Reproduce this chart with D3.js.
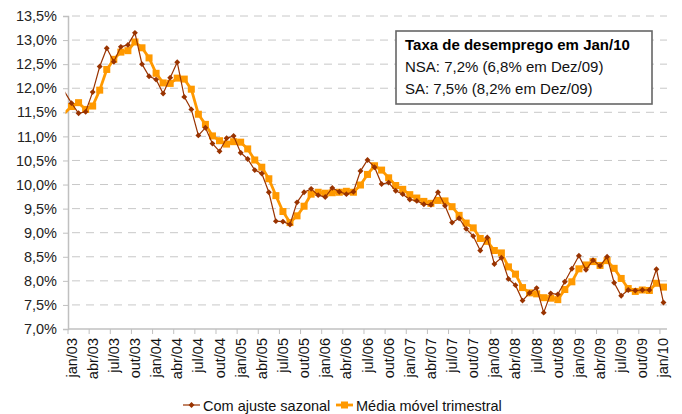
<!DOCTYPE html>
<html>
<head>
<meta charset="utf-8">
<script src="https://cdn.jsdelivr.net/npm/d3@7/dist/d3.min.js"></script>
<style>
  body { margin: 0; background: #fff; }
  svg { display: block; font-family: "Liberation Sans", Arial, sans-serif; }
</style>
</head>
<body>
<div id="chart"></div>
<script>
var width = 682;
var height = 414;

// plot area
var margin = { top: 16, bottom: 85, left: 68, right: 15 };

// data: monthly, jan/03 .. jan/10 (index 0 = jan/03), plus the dez/02 point that gets clipped
var monthNames = ["jan", "fev", "mar", "abr", "mai", "jun", "jul", "ago", "set", "out", "nov", "dez"];
var years = ["03", "04", "05", "06", "07", "08", "09", "10"];

var prevSA = 11.93;   // dez/02
var prevMA = 11.48;

var seasAdj = [
  11.69, 11.48, 11.51, 11.92, 12.45, 12.83, 12.55, 12.86, 12.90, 13.15, 12.50, 12.25,
  12.18, 11.89, 12.22, 12.54, 11.82, 11.56, 11.02, 11.18, 10.85, 10.69, 10.96, 11.01,
  10.66, 10.53, 10.30, 10.23, 9.84, 9.24, 9.23, 9.17, 9.63, 9.84, 9.91, 9.78,
  9.74, 9.93, 9.85, 9.80, 9.85, 10.28, 10.51, 10.36, 10.01, 10.04, 9.87, 9.80,
  9.69, 9.66, 9.59, 9.58, 9.84, 9.56, 9.21, 9.30, 9.08, 8.93, 8.63, 8.90,
  8.35, 8.48, 8.04, 7.91, 7.59, 7.75, 7.85, 7.34, 7.74, 7.72, 7.98, 8.25,
  8.52, 8.23, 8.43, 8.31, 8.50, 7.96, 7.69, 7.81, 7.80, 7.81, 7.81, 8.24,
  7.55
];

var movAvg = [
  11.62, 11.70, 11.56, 11.63, 11.96, 12.39, 12.60, 12.75, 12.78, 12.96, 12.84, 12.63,
  12.31, 12.11, 12.10, 12.21, 12.19, 11.98, 11.46, 11.25, 11.01, 10.91, 10.84, 10.89,
  10.88, 10.74, 10.51, 10.36, 10.12, 9.77, 9.44, 9.21, 9.35, 9.55, 9.80, 9.84,
  9.82, 9.83, 9.84, 9.86, 9.84, 9.99, 10.21, 10.39, 10.30, 10.14, 9.98, 9.90,
  9.79, 9.72, 9.65, 9.61, 9.67, 9.66, 9.54, 9.36, 9.20, 9.10, 8.88, 8.82,
  8.63, 8.58, 8.29, 8.14, 7.86, 7.75, 7.73, 7.65, 7.64, 7.61, 7.82, 7.98,
  8.25, 8.33, 8.40, 8.32, 8.42, 8.26, 8.05, 7.84, 7.78, 7.81, 7.80, 7.95,
  7.87
];

var yTicks = [7.0, 7.5, 8.0, 8.5, 9.0, 9.5, 10.0, 10.5, 11.0, 11.5, 12.0, 12.5, 13.0, 13.5];

var boxTitle = "Taxa de desemprego em Jan/10";
var boxLines = ["NSA: 7,2% (6,8% em Dez/09)", "SA: 7,5% (8,2% em Dez/09)"];
var seriesNames = ["Com ajuste sazonal", "Média móvel trimestral"];

// month labels for every category
var months = [];
years.forEach(function (yr) {
  monthNames.forEach(function (m) { months.push(m + "/" + yr); });
});
months = months.slice(0, seasAdj.length);

var red = "#993300";
var orange = "#ff9900";

var svg = d3.select("#chart").append("svg")
  .attr("width", width)
  .attr("height", height);

var x = d3.scaleLinear()
  .domain([-0.5, months.length - 0.5])
  .range([margin.left, width - margin.right]);

var y = d3.scaleLinear()
  .domain([7, 13.5])
  .range([height - margin.bottom, margin.top]);

var fmt = function (d) { return d3.format(".1f")(d).replace(".", ",") + "%"; };

// gridlines
svg.append("g")
  .selectAll("line")
  .data(yTicks.slice(1))
  .join("line")
  .attr("x1", margin.left + 4)
  .attr("x2", width - margin.right)
  .attr("y1", function (d) { return y(d); })
  .attr("y2", function (d) { return y(d); })
  .attr("stroke", "#c8c8c8")
  .attr("stroke-width", 1)
  .attr("stroke-dasharray", "8,6");

// y axis
var yAxis = svg.append("g")
  .attr("transform", "translate(" + margin.left + ",0)")
  .call(d3.axisLeft(y).tickValues(yTicks).tickFormat(fmt).tickSize(5).tickPadding(6));
yAxis.select(".domain").attr("stroke", "#c0c0c0").attr("stroke-width", 1.5);
yAxis.selectAll(".tick line").attr("stroke", "#c0c0c0");
yAxis.selectAll("text").attr("font-size", "14.5px").attr("fill", "#222");

// x axis: ticks at the left edge of every third month
var tickIdx = d3.range(0, months.length, 3);
var xAxis = svg.append("g")
  .attr("transform", "translate(0," + (height - margin.bottom) + ")");
xAxis.append("line")
  .attr("x1", margin.left).attr("x2", width - margin.right)
  .attr("stroke", "#c0c0c0").attr("stroke-width", 1.5);
xAxis.selectAll(".tk")
  .data(tickIdx)
  .join("line")
  .attr("class", "tk")
  .attr("x1", function (i) { return x(i - 0.5); })
  .attr("x2", function (i) { return x(i - 0.5); })
  .attr("y1", 0).attr("y2", 5)
  .attr("stroke", "#c0c0c0");
xAxis.selectAll("text")
  .data(tickIdx)
  .join("text")
  .attr("transform", function (i) { return "translate(" + (x(i) + 5) + ",9)rotate(-90)"; })
  .attr("text-anchor", "end")
  .attr("font-size", "14.5px")
  .attr("fill", "#111")
  .text(function (i) { return months[i]; });

// clip so the dez/02 segment only peeks in at the axis
svg.append("clipPath").attr("id", "plotclip")
  .append("rect")
  .attr("x", margin.left - 2.5)
  .attr("y", 0)
  .attr("width", width - margin.right - margin.left + 8)
  .attr("height", height - margin.bottom + 5);

var line = d3.line()
  .x(function (d) { return x(d.i); })
  .y(function (d) { return y(d.v); });

var saPts = [{ i: -1, v: prevSA }].concat(seasAdj.map(function (v, i) { return { i: i, v: v }; }));
var maPts = [{ i: -1, v: prevMA }].concat(movAvg.map(function (v, i) { return { i: i, v: v }; }));

var plot = svg.append("g").attr("clip-path", "url(#plotclip)");

// moving average (orange, squares)
plot.append("path")
  .datum(maPts)
  .attr("fill", "none")
  .attr("stroke", orange)
  .attr("stroke-width", 2.8)
  .attr("stroke-linejoin", "round")
  .attr("d", line);
plot.append("g")
  .selectAll("rect")
  .data(maPts.slice(1))
  .join("rect")
  .attr("x", function (d) { return x(d.i) - 3.5; })
  .attr("y", function (d) { return y(d.v) - 3.5; })
  .attr("width", 7)
  .attr("height", 7)
  .attr("fill", orange);

// seasonally adjusted (dark red, diamonds)
var diamond = d3.symbol().type(d3.symbolDiamond2).size(22);
plot.append("path")
  .datum(saPts)
  .attr("fill", "none")
  .attr("stroke", red)
  .attr("stroke-width", 1.2)
  .attr("d", line);
plot.append("g")
  .selectAll("path")
  .data(saPts.slice(1))
  .join("path")
  .attr("transform", function (d) { return "translate(" + x(d.i) + "," + y(d.v) + ")"; })
  .attr("d", diamond)
  .attr("fill", red);

// info box
var box = svg.append("g").attr("transform", "translate(396,31)");
box.append("rect")
  .attr("width", 256)
  .attr("height", 73)
  .attr("fill", "#fff")
  .attr("stroke", "#666")
  .attr("stroke-width", 1.6);
box.append("text")
  .attr("x", 9).attr("y", 19)
  .attr("font-size", "15px")
  .attr("font-weight", "bold")
  .attr("fill", "#000")
  .text(boxTitle);
box.selectAll(".ln")
  .data(boxLines)
  .join("text")
  .attr("class", "ln")
  .attr("x", 9)
  .attr("y", function (d, i) { return 41 + i * 22; })
  .attr("font-size", "15px")
  .attr("fill", "#111")
  .text(function (d) { return d; });

// legend
var legend = svg.append("g").attr("transform", "translate(0,405)");
var lg1 = legend.append("g").attr("transform", "translate(183,0)");
lg1.append("line").attr("x1", 0).attr("x2", 17).attr("stroke", red).attr("stroke-width", 1.2);
lg1.append("path").attr("transform", "translate(8.5,0)").attr("d", diamond).attr("fill", red);
lg1.append("text").attr("x", 20).attr("y", 5.5).attr("font-size", "14.5px").attr("fill", "#111").text(seriesNames[0]);

var lg2 = legend.append("g").attr("transform", "translate(336,0)");
lg2.append("line").attr("x1", 0).attr("x2", 17).attr("stroke", orange).attr("stroke-width", 2.8);
lg2.append("rect").attr("x", 5).attr("y", -3.5).attr("width", 7).attr("height", 7).attr("fill", orange);
lg2.append("text").attr("x", 20).attr("y", 5.5).attr("font-size", "14.5px").attr("fill", "#111").text(seriesNames[1]);
</script>
</body>
</html>
